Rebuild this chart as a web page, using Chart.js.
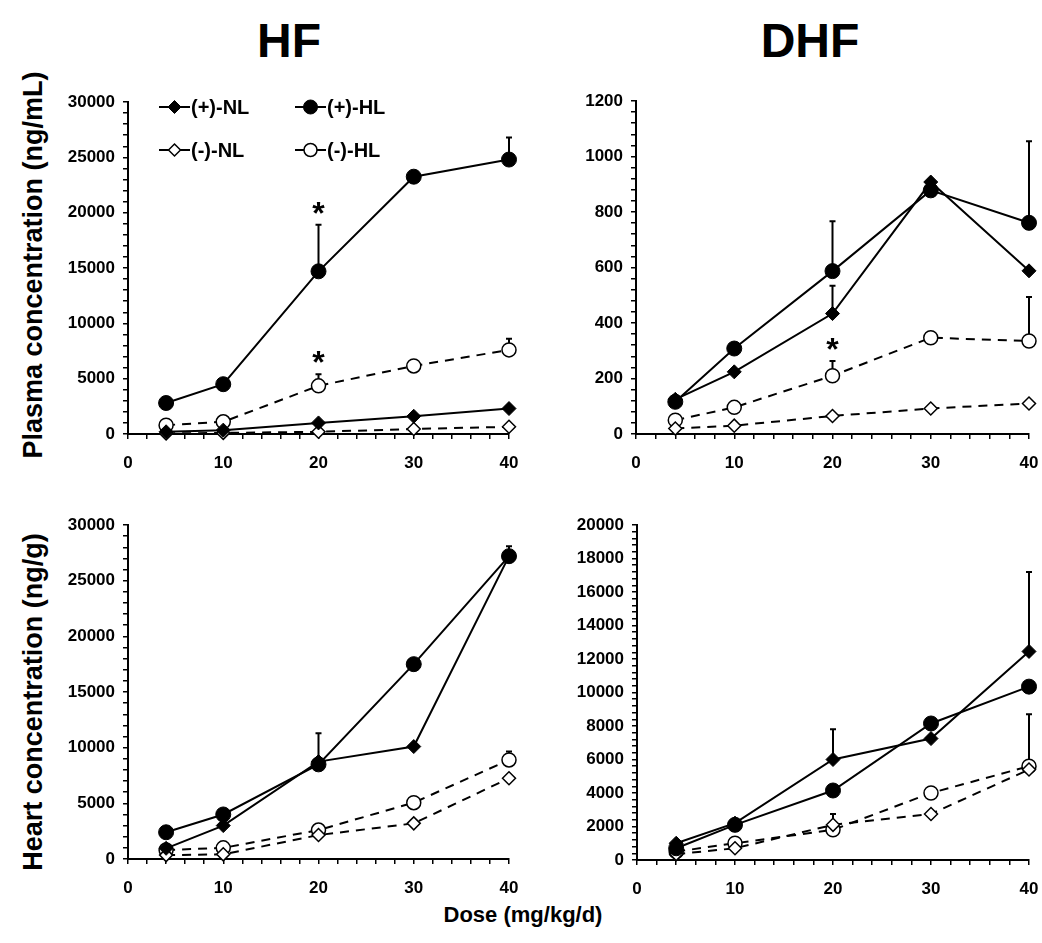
<!DOCTYPE html>
<html>
<head>
<meta charset="utf-8">
<script src="https://cdn.jsdelivr.net/npm/chart.js@4.4.1/dist/chart.umd.min.js"></script>
<style>
  body { margin: 0; width: 1042px; height: 943px; overflow: hidden; background: #fff; position: relative;
         font-family: "Liberation Sans", Arial, sans-serif; }
  canvas { position: absolute; }
  .t { position: absolute; font-weight: bold; color: #000; white-space: nowrap; transform: translate(-50%, -50%); }
  .rot { transform: translate(-50%, -50%) rotate(-90deg); }
</style>
</head>
<body>
<div class="t" style="left:289px;top:40px;font-size:48px">HF</div>
<div class="t" style="left:810px;top:40px;font-size:48px">DHF</div>
<div class="t rot" style="left:33px;top:265px;font-size:27px">Plasma concentration (ng/mL)</div>
<div class="t rot" style="left:33px;top:702px;font-size:27px">Heart concentration (ng/g)</div>
<div class="t" style="left:523px;top:915px;font-size:22px">Dose (mg/kg/d)</div>

<canvas id="c1"></canvas>
<canvas id="c2"></canvas>
<canvas id="c3"></canvas>
<canvas id="c4"></canvas>

<script>
// doses (mg/kg/d)
const doses = [4, 10, 20, 30, 40];
const seriesLabels = ['(+)-NL', '(+)-HL', '(-)-NL', '(-)-HL'];
const xTicks = [0, 10, 20, 30, 40];

// HF plasma (ng/mL)
const hfPlasmaPosNL = [200, 350, 1000, 1600, 2300];
const hfPlasmaPosHL = [2800, 4500, 14700, 23250, 24800];
const hfPlasmaNegNL = [50, 100, 200, 450, 650];
const hfPlasmaNegHL = [800, 1100, 4350, 6150, 7600];
const hfPlasmaPosHLErr = [null, null, 4200, null, 2000];
const hfPlasmaNegHLErr = [null, null, 1050, null, 1000];
const hfPlasmaStars = { posHL: [2], negHL: [2] };

// DHF plasma (ng/mL)
const dhfPlasmaPosNL = [125, 224, 434, 908, 588];
const dhfPlasmaPosHL = [116, 308, 587, 878, 761];
const dhfPlasmaNegNL = [20, 30, 65, 92, 110];
const dhfPlasmaNegHL = [50, 96, 210, 347, 335];
const dhfPlasmaPosNLErr = [null, null, 100, null, null];
const dhfPlasmaPosHLErr = [null, null, 180, null, 294];
const dhfPlasmaNegHLErr = [null, null, 53, null, 159];
const dhfPlasmaStars = { negHL: [2] };

// HF heart (ng/g)
const hfHeartPosNL = [960, 3000, 8750, 10100, 27200];
const hfHeartPosHL = [2400, 4000, 8500, 17500, 27200];
const hfHeartNegNL = [350, 420, 2150, 3200, 7250];
const hfHeartNegHL = [800, 1000, 2600, 5060, 8900];
const hfHeartPosNLErr = [null, null, 2550, null, null];
const hfHeartPosHLErr = [null, null, null, null, 900];
const hfHeartNegHLErr = [null, null, null, null, 750];

// DHF heart (ng/g)
const dhfHeartPosNL = [1000, 2200, 6000, 7250, 12450];
const dhfHeartPosHL = [700, 2100, 4150, 8150, 10350];
const dhfHeartNegNL = [350, 700, 2100, 2750, 5400];
const dhfHeartNegHL = [500, 1000, 1800, 4000, 5600];
const dhfHeartPosNLErr = [null, null, 1800, null, 4750];
const dhfHeartNegNLErr = [null, null, 650, null, null];
const dhfHeartNegHLErr = [null, null, null, null, 3100];

Chart.defaults.font.family = '"Liberation Sans", Arial, sans-serif';
Chart.defaults.color = '#000';

const styles = {
  posNL: { pointStyle: 'rectRot', pointRadius: 7, pointBackgroundColor: '#000', pointBorderWidth: 1, borderDash: [] },
  posHL: { pointStyle: 'circle', pointRadius: 7.5, pointBackgroundColor: '#000', pointBorderWidth: 1, borderDash: [] },
  negNL: { pointStyle: 'rectRot', pointRadius: 6.5, pointBackgroundColor: '#fff', pointBorderWidth: 1.5, borderDash: [9, 7] },
  negHL: { pointStyle: 'circle', pointRadius: 7, pointBackgroundColor: '#fff', pointBorderWidth: 1.5, borderDash: [9, 7] },
};

function makeSet(key, label, values, errs, stars) {
  return Object.assign({
    label: label,
    data: doses.map((d, i) => ({ x: d, y: values[i] })),
    errors: errs || null,
    stars: stars || [],
    borderColor: '#000',
    pointBorderColor: '#000',
    borderWidth: 2,
    showLine: true,
    clip: false
  }, styles[key]);
}

// upward error bars under the markers, asterisks on top
const errorBars = {
  id: 'errorBars',
  beforeDatasetsDraw(chart) {
    const ctx = chart.ctx, ys = chart.scales.y;
    ctx.save();
    ctx.strokeStyle = '#000';
    ctx.lineWidth = 2;
    chart.data.datasets.forEach((ds, i) => {
      if (!ds.errors) return;
      const meta = chart.getDatasetMeta(i);
      ds.errors.forEach((e, j) => {
        if (e == null) return;
        const p = meta.data[j];
        const top = ys.getPixelForValue(ds.data[j].y + e);
        ctx.beginPath();
        ctx.moveTo(p.x, p.y);
        ctx.lineTo(p.x, top);
        ctx.moveTo(p.x - 3, top);
        ctx.lineTo(p.x + 3, top);
        ctx.stroke();
      });
    });
    ctx.restore();
  },
  afterDatasetsDraw(chart) {
    const ctx = chart.ctx, ys = chart.scales.y;
    ctx.save();
    ctx.fillStyle = '#000';
    ctx.font = 'bold 32px "Liberation Sans", Arial, sans-serif';
    ctx.textAlign = 'center';
    ctx.textBaseline = 'alphabetic';
    chart.data.datasets.forEach((ds, i) => {
      const meta = chart.getDatasetMeta(i);
      ds.stars.forEach(j => {
        const p = meta.data[j];
        const e = ds.errors && ds.errors[j] != null ? ds.errors[j] : 0;
        const top = ys.getPixelForValue(ds.data[j].y + e);
        ctx.fillText('*', p.x, top - 1);
      });
    });
    ctx.restore();
  }
};

// 2x2 legend inside the first panel
const boxLegend = {
  id: 'boxLegend',
  afterDraw(chart) {
    const ctx = chart.ctx, a = chart.chartArea;
    const cols = [a.left + 31, a.left + 167];
    const rows = [a.top + 5, a.top + 48];
    ctx.save();
    chart.data.datasets.forEach((ds, i) => {
      const x = cols[i % 2], y = rows[Math.floor(i / 2)];
      ctx.strokeStyle = '#000';
      ctx.lineWidth = 2;
      ctx.beginPath();
      ctx.moveTo(x, y);
      ctx.lineTo(x + 31, y);
      ctx.stroke();
      ctx.fillStyle = ds.pointBackgroundColor;
      ctx.lineWidth = ds.pointBorderWidth;
      Chart.helpers.drawPoint(ctx, { pointStyle: ds.pointStyle, radius: ds.pointRadius - 0.5, borderWidth: ds.pointBorderWidth, rotation: 0 }, x + 15.5, y);
      ctx.fillStyle = '#000';
      ctx.font = 'bold 20px "Liberation Sans", Arial, sans-serif';
      ctx.textAlign = 'left';
      ctx.textBaseline = 'middle';
      ctx.fillText(ds.label, x + 32, y + 1);
    });
    ctx.restore();
  }
};

// room around the plot area, large enough that Chart.js keeps the area where we place it
const PAD_L = 72, PAD_T = 26, PAD_R = 32, PAD_B = 50;

function makePanel(id, area, yMax, yStep, yLabelStep, datasets, withLegend) {
  const cv = document.getElementById(id);
  cv.width = area.right - area.left + PAD_L + PAD_R;
  cv.height = area.bottom - area.top + PAD_T + PAD_B;
  cv.style.left = (area.left - PAD_L) + 'px';
  cv.style.top = (area.top - PAD_T) + 'px';
  const plugins = [errorBars];
  if (withLegend) plugins.push(boxLegend);
  return new Chart(cv, {
    type: 'scatter',
    data: { datasets: datasets },
    plugins: plugins,
    options: {
      responsive: false,
      animation: false,
      layout: { padding: { top: PAD_T, right: PAD_R, left: 0, bottom: 0 } },
      plugins: { legend: { display: false }, tooltip: { enabled: false } },
      scales: {
        x: {
          type: 'linear', min: 0, max: 40,
          afterFit(s) { s.height = PAD_B; },
          border: { color: '#000', width: 2 },
          grid: { drawOnChartArea: false, drawTicks: true, tickLength: 5, color: '#000', lineWidth: 1.5 },
          ticks: {
            stepSize: 2, autoSkip: false, maxRotation: 0, padding: 14,
            font: { size: 17, weight: 'bold' }, color: '#000',
            callback: v => xTicks.includes(v) ? String(v) : ''
          }
        },
        y: {
          min: 0, max: yMax,
          afterFit(s) { s.width = PAD_L; },
          border: { color: '#000', width: 2 },
          grid: { drawOnChartArea: false, drawTicks: true, tickLength: 5, color: '#000', lineWidth: 1.5 },
          ticks: {
            stepSize: yStep, autoSkip: false, padding: 8,
            font: { size: 17, weight: 'bold' }, color: '#000',
            callback: v => (v % yLabelStep === 0) ? String(v) : ''
          }
        }
      }
    }
  });
}

makePanel('c1', { left: 128, right: 509, top: 102, bottom: 434 }, 30000, 1000, 5000, [
  makeSet('posNL', seriesLabels[0], hfPlasmaPosNL),
  makeSet('posHL', seriesLabels[1], hfPlasmaPosHL, hfPlasmaPosHLErr, hfPlasmaStars.posHL),
  makeSet('negNL', seriesLabels[2], hfPlasmaNegNL),
  makeSet('negHL', seriesLabels[3], hfPlasmaNegHL, hfPlasmaNegHLErr, hfPlasmaStars.negHL)
], true);

makePanel('c2', { left: 636, right: 1029, top: 101, bottom: 434 }, 1200, 40, 200, [
  makeSet('posNL', seriesLabels[0], dhfPlasmaPosNL, dhfPlasmaPosNLErr),
  makeSet('posHL', seriesLabels[1], dhfPlasmaPosHL, dhfPlasmaPosHLErr),
  makeSet('negNL', seriesLabels[2], dhfPlasmaNegNL),
  makeSet('negHL', seriesLabels[3], dhfPlasmaNegHL, dhfPlasmaNegHLErr, dhfPlasmaStars.negHL)
], false);

makePanel('c3', { left: 128, right: 509, top: 525, bottom: 859 }, 30000, 1000, 5000, [
  makeSet('posNL', seriesLabels[0], hfHeartPosNL, hfHeartPosNLErr),
  makeSet('posHL', seriesLabels[1], hfHeartPosHL, hfHeartPosHLErr),
  makeSet('negNL', seriesLabels[2], hfHeartNegNL),
  makeSet('negHL', seriesLabels[3], hfHeartNegHL, hfHeartNegHLErr)
], false);

makePanel('c4', { left: 637, right: 1029, top: 525, bottom: 860 }, 20000, 400, 2000, [
  makeSet('posNL', seriesLabels[0], dhfHeartPosNL, dhfHeartPosNLErr),
  makeSet('posHL', seriesLabels[1], dhfHeartPosHL),
  makeSet('negNL', seriesLabels[2], dhfHeartNegNL, dhfHeartNegNLErr),
  makeSet('negHL', seriesLabels[3], dhfHeartNegHL, dhfHeartNegHLErr)
], false);
</script>
</body>
</html>
